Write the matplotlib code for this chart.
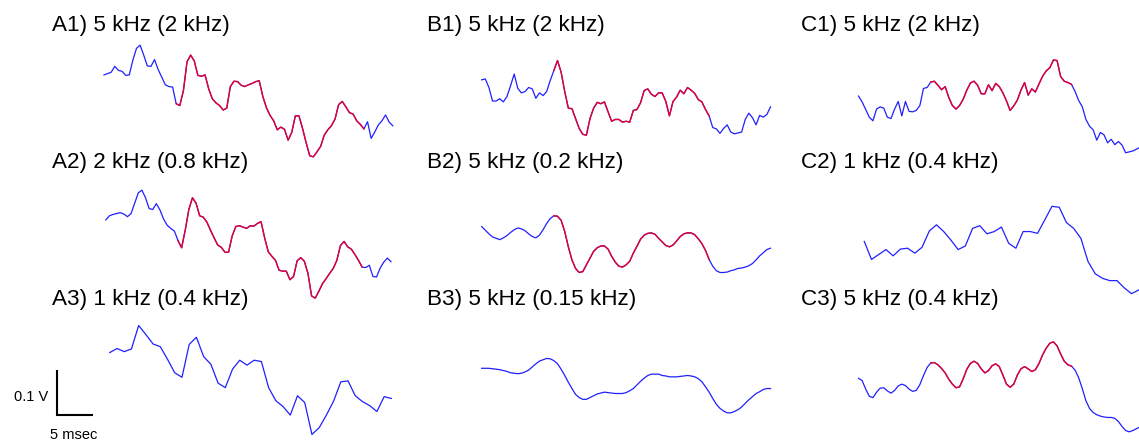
import matplotlib
matplotlib.use('Agg')
import matplotlib.pyplot as plt
import numpy as np

plt.rcParams['font.family'] = ['Liberation Sans', 'DejaVu Sans']

# traces, in mV; each trace: (first sample ms, step ms)
a1_mv = [78, 81, 84, 97, 88, 86, 77, 78, 111, 137, 144, 122, 98, 97, 112, 90, 73, 56, 52, 51,
         14, 10, 43, 107, 122, 109, 77, 75, 78, 47, 25, 16, 10, 0, 4, 52, 64, 63, 55, 52,
         56, 59, 63, 65, 30, 5, -12, -24, -44, -38, -43, -67, -50, -13, -13, -41, -73, -102, -104, -93,
         -81, -56, -44, -35, -20, 12, 19, 7, -6, -9, -24, -32, -42, -26, -63, -49, -33, -24, -11, -27, -35]
a2_mv = [67, 76, 79, 81, 83, 80, 74, 81, 104, 127, 133, 116, 92, 90, 103, 89, 69, 55, 48, 42,
         21, 5, 44, 90, 116, 104, 76, 73, 62, 44, 27, 11, 6, -5, -5, 31, 52, 54, 51, 48,
         54, 53, 59, 63, 27, -4, -14, -23, -45, -47, -47, -66, -59, -24, -17, -25, -52, -102, -107, -92,
         -75, -64, -52, -41, -23, 10, 19, 7, 2, -10, -23, -38, -39, -34, -59, -60, -40, -27, -18, -26]
a3_mv = [61, 70, 63, 69, 121, 101, 80, 74, 46, 16, 6, 79, 95, 52, 35, -7, -17, 24, 44, 33,
         44, 41, -17, -46, -59, -78, -35, -50, -121, -106, -78, -47, -4, -2, -35, -48, -57, -70, -37, -41]

b1_mv = [67, 69, 50, 20, 20, 25, 18, 30, 54, 80, 48, 38, 41, 50, 47, 26, 38, 32, 41, 66,
         88, 110, 84, 41, 4, 3, -19, -41, -54, -56, -19, 4, 17, 14, 18, -4, -25, -21, -21, -27,
         -25, -27, -1, 1, 16, 43, 47, 35, 30, 38, 38, 19, -13, 19, 29, 44, 36, 50, 44, 37,
         23, 18, 1, -13, -39, -42, -52, -41, -33, -49, -53, -51, -49, -21, -7, -17, -33, -12, -16, -10, 7]
b2_mv = [52, 44, 36, 29, 26, 23, 27, 32, 39, 45, 49, 47, 43, 36, 30, 27, 33, 45, 59, 70,
         76, 75, 66, 41, 7, -22, -41, -50, -48, -33, -18, -3, 5, 9, 9, 2, -14, -27, -36, -38,
         -33, -25, -7, 8, 24, 33, 37, 38, 35, 26, 18, 10, 7, 11, 20, 30, 36, 38, 38, 34,
         25, 14, -1, -21, -36, -46, -50, -50, -49, -46, -44, -41, -40, -38, -35, -30, -22, -13, -6, 1, 4]
b3_mv = [26, 26, 26, 25, 24, 23, 21, 19, 16, 15, 14, 15, 18, 22, 29, 36, 42, 45, 48, 47,
         43, 36, 24, 10, -5, -19, -32, -39, -43, -43, -39, -35, -31, -29, -27, -28, -29, -30, -30, -30,
         -28, -24, -19, -11, -3, 4, 10, 13, 13, 13, 10, 9, 7, 7, 7, 8, 9, 10, 9, 7,
         3, -4, -15, -27, -41, -54, -63, -69, -73, -73, -70, -66, -60, -52, -44, -37, -30, -26, -21, -19, -19]

c1_mv = [31, 18, 1, -16, -24, 2, 7, 4, -16, -19, 2, 19, -13, 19, -3, -4, -1, 10, 48, 50,
         62, 64, 55, 45, 52, 28, 10, 2, 10, 24, 44, 60, 64, 55, 36, 36, 56, 43, 59, 52,
         38, 20, -1, 9, 22, 44, 61, 33, 47, 40, 58, 75, 87, 94, 111, 110, 74, 64, 61, 57,
         41, 21, 7, -21, -36, -44, -67, -50, -55, -73, -65, -77, -70, -78, -95, -93, -91, -87, -83]
c2_mv = [19, -21, -10, 1, -13, 2, 4, -7, 6, 42, 56, 41, 22, 1, 9, 48, 54, 36, 41, 51,
         15, 4, 41, 41, 37, 67, 97, 95, 61, 48, 26, -26, -53, -63, -68, -68, -84, -97, -89]
c3_mv = [26, 21, 2, -14, -17, -5, 4, 5, -2, -7, -1, 9, 13, 10, 2, -3, -1, 12, 32, 50,
         60, 61, 56, 48, 38, 24, 13, 5, 7, 25, 46, 59, 64, 59, 47, 38, 43, 54, 58, 52,
         33, 13, 6, 13, 33, 47, 52, 47, 41, 45, 59, 78, 93, 104, 107, 98, 80, 64, 56, 53,
         44, 27, 3, -24, -41, -50, -55, -58, -60, -61, -61, -63, -70, -81, -90, -93, -90, -86, -82]

titles = [["A1) 5 kHz (2 kHz)", "A2) 2 kHz (0.8 kHz)", "A3) 1 kHz (0.4 kHz)"],
          ["B1) 5 kHz (2 kHz)", "B2) 5 kHz (0.2 kHz)", "B3) 5 kHz (0.15 kHz)"],
          ["C1) 5 kHz (2 kHz)", "C2) 1 kHz (0.4 kHz)", "C3) 5 kHz (0.4 kHz)"]]
traces = [[(a1_mv, 0.0, 0.5), (a2_mv, 0.25, 0.5), (a3_mv, 0.8, 1.0)],
          [(b1_mv, 0.0, 0.5), (b2_mv, 0.0, 0.5), (b3_mv, 0.0, 0.5)],
          [(c1_mv, 0.0, 0.5), (c2_mv, 0.8, 1.0), (c3_mv, 0.0, 0.5)]]
# highlighted window (ms) per panel, None = no highlight
red_win = [[(10, 36), (10, 36), None],
           [(10, 31.5), (10, 31.5), None],
           [(10, 29.5), None, (10, 29.5)]]

# layout in pixels
W, H = 1139, 442
PX_PER_MS = 7.22
MV_PER_PX = 100 / 45.0
col_x0 = [104.0, 481.7, 858.5]
base_y = [[110, 250, 380], [110, 250, 380], [110, 250, 390]]
title_x = [52.5, 427, 801]
title_y = [31, 168, 305]

BLUE = '#2020ff'
RED = '#e8002e'

fig = plt.figure(figsize=(W / 100, H / 100), dpi=100)

axes = {}
for c in range(3):
    for r in range(3):
        x0, y0 = col_x0[c], base_y[c][r]
        ax = fig.add_axes([x0 / W, 1 - (y0 + 100) / H, 40 * PX_PER_MS / W, 200 / H])
        ax.set_xlim(0, 40)
        ax.set_ylim(-100 * MV_PER_PX, 100 * MV_PER_PX)
        ax.axis('off')
        v, t0, dt = traces[c][r]
        v = np.array(v, dtype=float)
        t = t0 + dt * np.arange(len(v))
        ax.plot(t, v, color=BLUE, lw=0.9, clip_on=False)
        if red_win[c][r] is not None:
            lo, hi = red_win[c][r]
            m = (t >= lo - 1e-9) & (t <= hi + 1e-9)
            ax.plot(t[m], v[m], color=RED, lw=1.0, clip_on=False)
        fig.text(title_x[c] / W, 1 - title_y[r] / H, titles[c][r], fontsize=16.2, va='baseline')
        axes[(c, r)] = ax

# scale bar: 5 msec x 0.1 V, drawn in the A3 axes
ax = axes[(0, 2)]
sb_t = -6.47
sb_v = -78.4
ax.plot([sb_t, sb_t, sb_t + 5], [sb_v + 100, sb_v, sb_v], color='black', lw=1.5,
        clip_on=False, solid_capstyle='butt', solid_joinstyle='miter')
ax.text(sb_t - 1.3, sb_v + 40, "0.1 V", ha='right', va='center', fontsize=10.5)
ax.text(sb_t + 2.3, sb_v - 44, "5 msec", ha='center', va='center', fontsize=10.5)

fig.savefig('out.png', dpi=100)
